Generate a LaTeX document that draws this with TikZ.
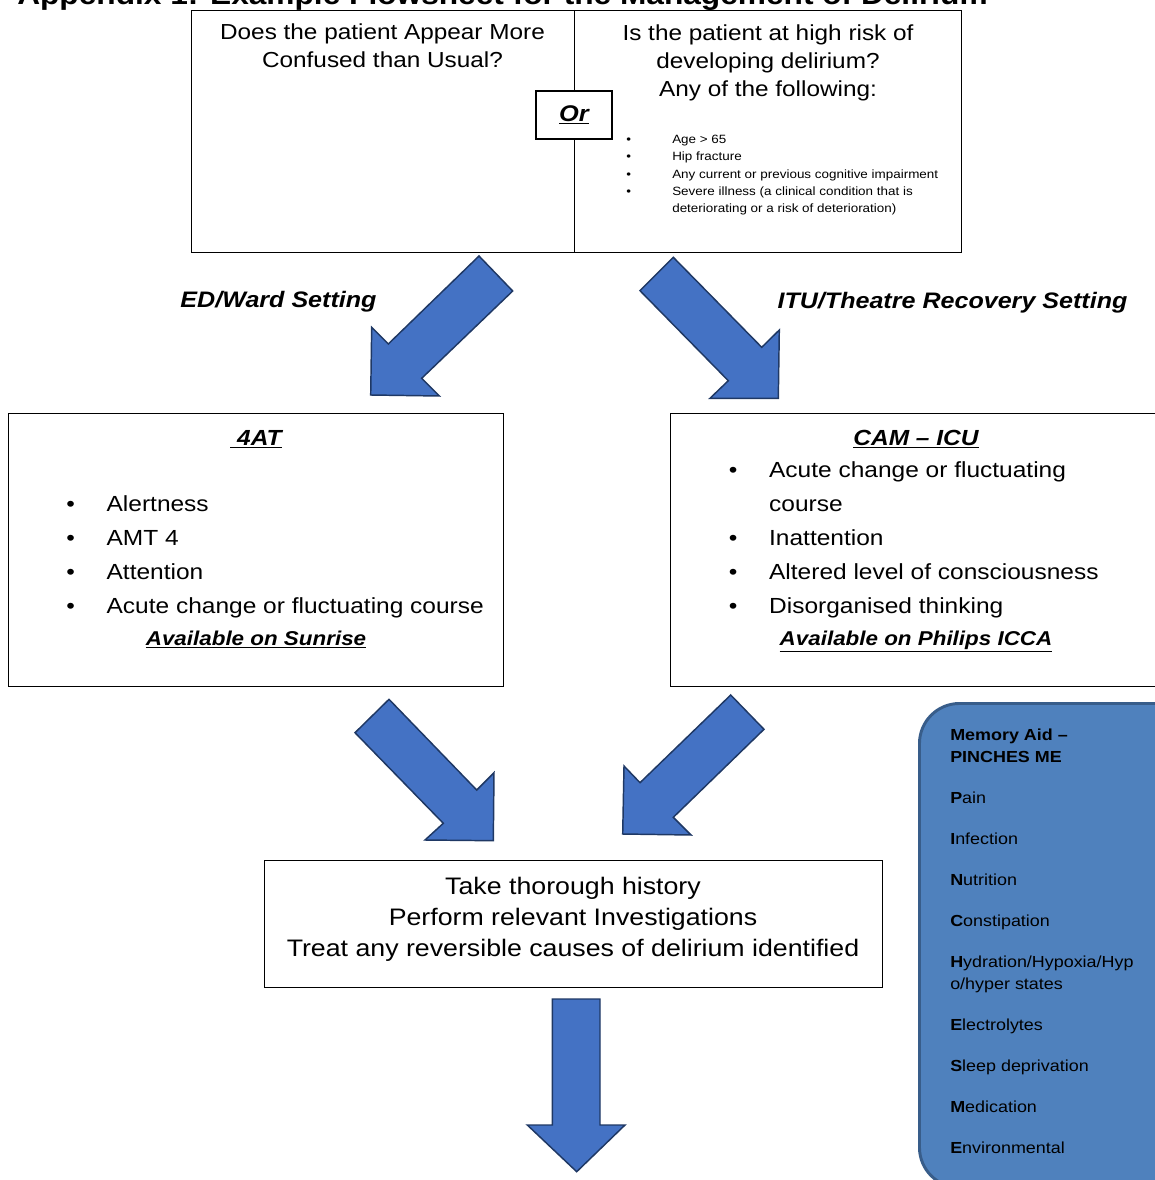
\documentclass[tikz,border=0pt]{standalone}
\usepackage{fontspec}
\setmainfont{Liberation Sans}[FakeStretch=1.12]
\usepackage{xcolor}
\usepackage{tikz}
\usetikzlibrary{positioning}

\definecolor{arrowblue}{HTML}{4472C4}
\definecolor{arrowedge}{HTML}{1F3864}
\definecolor{aidblue}{HTML}{4F81BD}
\definecolor{aidedge}{HTML}{385D8A}
\newcommand{\px}{0.75pt}
\newcommand{\bigbul}{\makebox[30.3pt][l]{\textbullet}}
\newcommand{\biggap}{\hspace*{30.3pt}}
\newcommand{\smallbul}{\makebox[34.5pt][l]{\textbullet}}
\newcommand{\smallgap}{\hspace*{34.5pt}}

\begin{document}
\begin{tikzpicture}[
		x=0.75pt, y=-0.75pt,
		every node/.style={inner sep=0pt},
		box/.style={
			rectangle,
			draw=black,
			line width=1.1pt,
			inner sep=0pt,
			anchor=north west
		},
		titletext/.style={font=\fontsize{21.2}{25}\selectfont\bfseries},
		toptext/.style={align=center, font=\fontsize{16.3}{21}\selectfont},
		smalltext/.style={align=left, font=\fontsize{9}{13}\selectfont},
		settext/.style={font=\fontsize{16.8}{20}\selectfont\bfseries\itshape},
		headtext/.style={font=\fontsize{16.4}{20}\selectfont\bfseries\itshape},
		itemtext/.style={align=left, font=\fontsize{16.4}{25.5}\selectfont},
		availtext/.style={font=\fontsize{15}{18}\selectfont\bfseries\itshape},
		bottext/.style={align=center, font=\fontsize{17.9}{23.25}\selectfont},
		aidtext/.style={align=left, font=\fontsize{12}{16.5}\selectfont},
		blockarrow/.style={
			fill=arrowblue,
			draw=arrowedge,
			line width=1.1pt,
			line join=miter
		}
		]
		
		\useasboundingbox (0,0) rectangle (1155,1180);
		\clip (0,0) rectangle (1155,1180);
		
		\node[titletext, anchor=base west] (title) at (17,5)
		{Appendix 1: Example Flowsheet for the Management of Delirium};
		
		% top question boxes
		\node[box, minimum width=383*\px, minimum height=242*\px] (confused) at (191,10) {};
		\node[box, minimum width=387*\px, minimum height=242*\px] (risk) at (574,10) {};
		
		\node[toptext, anchor=base] (confusedq) at (382.5,68)
		{Does the patient Appear More\\Confused than Usual?};
		
		\node[toptext, anchor=base] (riskq) at (768,97)
		{Is the patient at high risk of\\developing delirium?\\Any of the following:};
		
		\node[smalltext, anchor=base west] (riskitems) at (626,213)
		{\smallbul Age > 65\\
			\smallbul Hip fracture\\
			\smallbul Any current or previous cognitive impairment\\
			\smallbul Severe illness (a clinical condition that is\\
			\smallgap deteriorating or a risk of deterioration)};
		
		\node[box, anchor=center, fill=white, minimum width=76*\px, minimum height=48*\px,
		font=\fontsize{17}{20}\selectfont\bfseries\itshape] (or) at (574,115) {\underline{Or}};
		
		% settings
		\filldraw[blockarrow] (479,256) -- (512.7,291) -- (421.7,378.3) -- (439.3,396)
		-- (370.7,395) -- (371.7,327.3) -- (388.3,344) -- cycle;
		\filldraw[blockarrow] (673.3,257.3) -- (640,290.7) -- (728.3,380.7) -- (710,398.3)
		-- (778.3,398.3) -- (779.3,330) -- (761.7,347.3) -- cycle;
		
		\node[settext, anchor=base] (edward) at (278.5,307) {ED/Ward Setting};
		\node[settext, anchor=base] (itu) at (952.5,309) {ITU/Theatre Recovery Setting};
		
		% assessment tools
		\node[box, minimum width=495*\px, minimum height=273*\px] (fourat) at (8,413) {};
		\node[box, minimum width=500*\px, minimum height=273*\px] (camicu) at (670,413) {};
		
		\node[headtext, anchor=base] (fourathead) at (256,445) {\underline{\ 4AT}};
		\node[itemtext, anchor=base west] (fouratitems) at (66,613)
		{\bigbul Alertness\\
			\bigbul AMT 4\\
			\bigbul Attention\\
			\bigbul Acute change or fluctuating course};
		\node[availtext, anchor=base] (sunrise) at (256,645) {\underline{Available on Sunrise}};
		
		\node[headtext, anchor=base] (camhead) at (916,445) {\underline{CAM – ICU}};
		\node[itemtext, anchor=base west] (camitems) at (728.5,613)
		{\bigbul Acute change or fluctuating\\
			\biggap course\\
			\bigbul Inattention\\
			\bigbul Altered level of consciousness\\
			\bigbul Disorganised thinking};
		\node[availtext, anchor=base] (icca) at (916,645) {\underline{Available on Philips ICCA}};
		
		\filldraw[blockarrow] (389,699.3) -- (355,732.7) -- (443.3,823.3) -- (425,840)
		-- (493.3,840.7) -- (494,772.7) -- (476.7,790) -- cycle;
		\filldraw[blockarrow] (730.7,695) -- (764,729.3) -- (673.3,817.3) -- (691,835)
		-- (622.7,834) -- (624,766) -- (640,782.7) -- cycle;
		
		% management
		\node[box, minimum width=618*\px, minimum height=127*\px] (manage) at (264,860) {};
		\node[bottext, anchor=base] (managetext) at (573,956)
		{Take thorough history\\Perform relevant Investigations\\Treat any reversible causes of delirium identified};
		
		\filldraw[blockarrow] (552.3,999) -- (600,999) -- (600,1125) -- (625,1125)
		-- (576.7,1171.7) -- (527.3,1125) -- (552.3,1125) -- cycle;
		
		% memory aid
		\node[box, rounded corners=30pt, fill=aidblue, draw=aidedge, line width=2.2pt,
		minimum width=300*\px, minimum height=484*\px] (memaid) at (918,702) {};
		\node[aidtext, anchor=base west] (memaidtext) at (950,1153)
		{\textbf{Memory Aid –}\\
			\textbf{PINCHES ME}\\[14.25pt]
			\textbf{P}ain\\[14.25pt]
			\textbf{I}nfection\\[14.25pt]
			\textbf{N}utrition\\[14.25pt]
			\textbf{C}onstipation\\[14.25pt]
			\textbf{H}ydration/Hypoxia/Hyp\\
			o/hyper states\\[14.25pt]
			\textbf{E}lectrolytes\\[14.25pt]
			\textbf{S}leep deprivation\\[14.25pt]
			\textbf{M}edication\\[14.25pt]
			\textbf{E}nvironmental};
		
	\end{tikzpicture}
\end{document}
